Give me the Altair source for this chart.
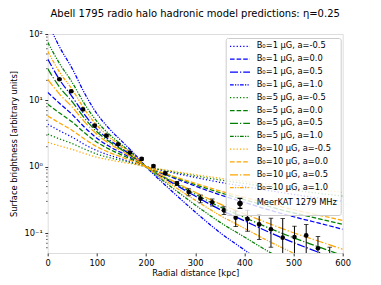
import altair as alt
import pandas as pd

# ---------------- data ----------------
r_model = [0, 25, 50, 75, 100, 125, 150, 175, 200, 250, 300, 350, 400, 450, 500, 550, 600]

b1_am05 = [4.37, 3.45, 2.78, 2.16, 1.75, 1.49, 1.31, 1.15, 1.0, 0.824, 0.689, 0.582, 0.504, 0.436, 0.382, 0.338, 0.300]
b1_a00 = [13.2, 8.9, 6.1, 3.93, 2.69, 2.03, 1.62, 1.29, 1.0, 0.706, 0.511, 0.377, 0.290, 0.223, 0.176, 0.142, 0.114]
b1_a05 = [42.0, 20.0, 11.3, 6.07, 3.68, 2.55, 1.89, 1.40, 1.0, 0.590, 0.361, 0.227, 0.153, 0.103, 0.0718, 0.0516, 0.0372]
b1_a10 = [150, 62.0, 30.0, 12.8, 6.31, 3.75, 2.45, 1.60, 1.0, 0.445, 0.208, 0.102, 0.0557, 0.0303, 0.0174, 0.0105, 0.0063]
b5_am05 = [3.1, 2.61, 2.23, 1.84, 1.55, 1.37, 1.24, 1.12, 1.0, 0.849, 0.728, 0.631, 0.558, 0.494, 0.442, 0.398, 0.360]
b5_a00 = [8.7, 6.37, 4.70, 3.24, 2.34, 1.84, 1.51, 1.24, 1.0, 0.726, 0.537, 0.406, 0.319, 0.251, 0.201, 0.165, 0.135]
b5_a05 = [30.0, 15.5, 9.5, 5.36, 3.36, 2.39, 1.81, 1.36, 1.0, 0.611, 0.385, 0.249, 0.172, 0.119, 0.0847, 0.0622, 0.0457]
b5_a10 = [75.0, 35.0, 18.5, 8.81, 4.82, 3.09, 2.15, 1.50, 1.0, 0.504, 0.265, 0.146, 0.0871, 0.0521, 0.0325, 0.0212, 0.0138]
b10_am05 = [2.33, 2.05, 1.82, 1.58, 1.39, 1.27, 1.17, 1.09, 1.0, 0.867, 0.759, 0.670, 0.601, 0.541, 0.490, 0.449, 0.410]
b10_a00 = [5.8, 4.52, 3.52, 2.61, 2.0, 1.64, 1.40, 1.19, 1.0, 0.741, 0.561, 0.432, 0.345, 0.276, 0.225, 0.187, 0.155]
b10_a05 = [20.7, 12.2, 7.9, 4.73, 3.08, 2.24, 1.73, 1.33, 1.0, 0.632, 0.411, 0.275, 0.195, 0.139, 0.101, 0.0759, 0.057]
b10_a10 = [55.0, 26.0, 14.5, 7.31, 4.21, 2.81, 2.01, 1.45, 1.0, 0.548, 0.313, 0.185, 0.118, 0.075, 0.0497, 0.0341, 0.0234]

series_labels = [
    "B₀=1 μG, a=-0.5", "B₀=1 μG, a=0.0", "B₀=1 μG, a=0.5", "B₀=1 μG, a=1.0",
    "B₀=5 μG, a=-0.5", "B₀=5 μG, a=0.0", "B₀=5 μG, a=0.5", "B₀=5 μG, a=1.0",
    "B₀=10 μG, a=-0.5", "B₀=10 μG, a=0.0", "B₀=10 μG, a=0.5", "B₀=10 μG, a=1.0",
]
series_values = [b1_am05, b1_a00, b1_a05, b1_a10,
                 b5_am05, b5_a00, b5_a05, b5_a10,
                 b10_am05, b10_a00, b10_a05, b10_a10]

meer_label = "MeerKAT 1279 MHz"
meer_r = [23.9, 47.8, 71.7, 95.6, 119.5, 143.4, 167.3, 191.2, 215.1, 239.0, 262.9, 286.8,
          310.7, 334.6, 358.5, 382.4, 406.3, 430.2, 454.1, 478.0, 501.9, 525.8, 549.7, 573.6]
meer_v = [20.8, 13.7, 7.3, 4.17, 2.94, 2.18, 1.63, 1.31, 1.02, 0.795, 0.56, 0.415,
          0.33, 0.29, 0.22, 0.17, 0.163, 0.135, 0.114, 0.085, 0.087, 0.092, 0.059, 0.035]
meer_err = [0.6, 0.5, 0.3, 0.2, 0.12, 0.08, 0.06, 0.05, 0.04, 0.035, 0.04, 0.05,
            0.045, 0.035, 0.03, 0.045, 0.057, 0.055, 0.053, 0.08, 0.04, 0.043, 0.03, 0.026]

x_ticks = [0, 100, 200, 300, 400, 500, 600]
y_ticks = [0.1, 1, 10, 100]
y_minor = [0.06, 0.07, 0.08, 0.09, 0.2, 0.3, 0.4, 0.5, 0.6, 0.7, 0.8, 0.9,
           2, 3, 4, 5, 6, 7, 8, 9, 20, 30, 40, 50, 60, 70, 80, 90]

# ---------------- tables ----------------
rows = []
for lab, vals in zip(series_labels, series_values):
    for r, v in zip(r_model, vals):
        rows.append({"r": r, "v": v, "series": lab})
df_lines = pd.DataFrame(rows)

df_meer = pd.DataFrame({
    "r": meer_r, "v": meer_v,
    "lo": [v - e for v, e in zip(meer_v, meer_err)],
    "hi": [v + e for v, e in zip(meer_v, meer_err)],
    "series": meer_label,
})
df_minor = pd.DataFrame({"v": y_minor})

# ---------------- styling ----------------
FONT = "DejaVu Sans"
domain = series_labels + [meer_label]
colors = ["blue"] * 4 + ["green"] * 4 + ["orange"] * 4 + ["black"]
dashes = [[1.25, 2.06], [4.6, 2.0], [8.0, 2.0, 1.25, 2.0],
          [3.75, 1.25, 1.25, 1.25, 1.25, 1.25]] * 3 + [[1, 0]]
line_path = "M-1,0H4"
meer_path = ("M1.5,-1.25V1.25M0.9,-1.25H2.1M0.9,1.25H2.1"
             "M0.95,0A0.55,0.55,0,1,0,2.05,0A0.55,0.55,0,1,0,0.95,0Z")
shapes = [line_path] * 12 + [meer_path]

xscale = alt.Scale(domain=[0, 600], nice=False, zero=False)
yscale = alt.Scale(type="log", domain=[0.05, 100], nice=False)

xaxis = alt.Axis(values=x_ticks, format="d", title="Radial distance [kpc]",
                 tickSize=2.9, tickWidth=0.8, tickColor="black", domain=False, grid=False,
                 labelFont=FONT, labelFontSize=8.3, labelColor="black", labelPadding=2.5,
                 labelFlush=False, labelOverlap=False,
                 titleFont=FONT, titleFontSize=8.3, titleFontWeight="normal", titleColor="black",
                 titleY=20.5, titleBaseline="middle")
yaxis = alt.Axis(values=y_ticks, title="Surface brightness [arbitrary units]",
                 labelExpr="datum.value >= 99 ? '10²' : datum.value >= 9 ? '10¹' : datum.value >= 0.9 ? '10⁰' : '10⁻¹'",
                 tickSize=2.9, tickWidth=0.8, tickColor="black", domain=False, grid=False,
                 labelFont=FONT, labelFontSize=8.3, labelColor="black", labelPadding=2.5,
                 labelFlush=False, labelOverlap=False,
                 titleFont=FONT, titleFontSize=8.3, titleFontWeight="normal", titleColor="black",
                 titleX=-33, titleY=109.5, titleBaseline="middle", titleAngle=270, titleAlign="center")

leg = alt.Legend(title=None, orient="none", legendX=178, legendY=4,
                 symbolSize=64, symbolStrokeWidth=1.25, symbolOffset=0, labelOffset=17.7,
                 labelFont=FONT, labelFontSize=8.3, labelColor="black", labelLimit=300,
                 rowPadding=3.85, padding=3.3, strokeColor="#cccccc",
                 fillColor="rgba(255,255,255,0.8)", cornerRadius=2)

color_enc = alt.Color("series:N", scale=alt.Scale(domain=domain, range=colors), legend=leg)

lines = alt.Chart(df_lines).mark_line(clip=True, strokeWidth=1.25, interpolate="monotone").encode(
    x=alt.X("r:Q", scale=xscale, axis=xaxis),
    y=alt.Y("v:Q", scale=yscale, axis=yaxis),
    color=color_enc,
    strokeDash=alt.StrokeDash("series:N", scale=alt.Scale(domain=domain, range=dashes), legend=leg),
)

legend_only = alt.Chart(df_meer).transform_filter("datum.r < 0").mark_point(filled=True, opacity=1).encode(
    x=alt.X("r:Q", scale=xscale),
    y=alt.Y("v:Q", scale=yscale),
    color=color_enc,
    shape=alt.Shape("series:N", scale=alt.Scale(domain=domain, range=shapes), legend=leg),
)

bars = alt.Chart(df_meer).mark_rule(clip=True, color="black", strokeWidth=1).encode(
    x=alt.X("r:Q", scale=xscale),
    y=alt.Y("lo:Q", scale=yscale),
    y2="hi:Q",
)
caps_hi = alt.Chart(df_meer).mark_tick(clip=True, color="black", orient="horizontal",
                                      size=4.5, thickness=1).encode(
    x=alt.X("r:Q", scale=xscale), y=alt.Y("hi:Q", scale=yscale))
caps_lo = alt.Chart(df_meer).mark_tick(clip=True, color="black", orient="horizontal",
                                      size=4.5, thickness=1).encode(
    x=alt.X("r:Q", scale=xscale), y=alt.Y("lo:Q", scale=yscale))
points = alt.Chart(df_meer).mark_circle(clip=True, color="black", size=22, opacity=1).encode(
    x=alt.X("r:Q", scale=xscale), y=alt.Y("v:Q", scale=yscale))

minor = alt.Chart(df_minor).mark_rule(color="black", strokeWidth=0.6).encode(
    x=alt.value(0), x2=alt.value(-1.7), y=alt.Y("v:Q", scale=yscale))

chart = alt.layer(lines, legend_only, bars, caps_hi, caps_lo, points, minor).properties(
    width=295, height=219,
    padding={"left": 39.7, "top": 26, "right": 30, "bottom": 30},
    autosize=alt.AutoSizeParams(type="none"),
    title=alt.TitleParams(text="Abell 1795 radio halo hadronic model predictions: η=0.25",
                          font=FONT, fontSize=10, fontWeight="normal", color="black",
                          anchor="middle", offset=10.5),
).configure_view(stroke="black", strokeWidth=0.8).configure(background="white")

chart.save("out.html", embed_options={"renderer": "svg", "actions": False})
